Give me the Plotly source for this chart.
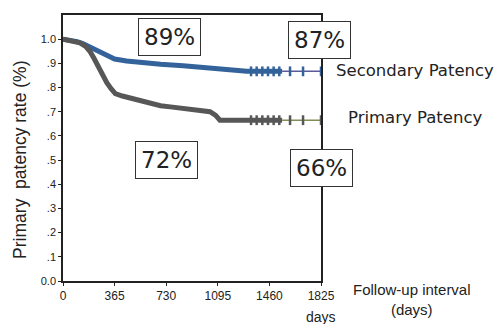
import plotly.graph_objects as go

# Kaplan-Meier style data (days, survival fraction)
sec_t = [0, 60, 100, 140, 180, 220, 260, 300, 365, 450, 550, 690, 850, 950, 1090, 1200, 1300, 1825]
sec_s = [1.0, 0.995, 0.99, 0.982, 0.97, 0.958, 0.945, 0.932, 0.918, 0.91, 0.903, 0.896, 0.89, 0.884, 0.875, 0.869, 0.867, 0.867]

pri_t = [0, 60, 120, 160, 190, 220, 250, 280, 310, 340, 370, 420, 480, 550, 620, 690, 760, 830, 900, 970, 1040, 1080, 1110, 1825]
pri_s = [1.0, 0.995, 0.985, 0.97, 0.95, 0.92, 0.885, 0.85, 0.82, 0.795, 0.775, 0.765, 0.755, 0.745, 0.735, 0.725, 0.72, 0.715, 0.71, 0.705, 0.70, 0.685, 0.665, 0.665]

thick_end = 1550
censor_t = [1330, 1370, 1410, 1450, 1490, 1530, 1606, 1698, 1825]

x_ticks = [0, 365, 730, 1095, 1460, 1825]
y_ticks = [0.0, 0.1, 0.2, 0.3, 0.4, 0.5, 0.6, 0.7, 0.8, 0.9, 1.0]
y_ticktext = ["0.0", ".1", ".2", ".3", ".4", ".5", ".6", ".7", ".8", ".9", "1.0"]

box_labels = ["89%", "87%", "72%", "66%"]
box_x = [750, 1811, 729, 1825]
box_y = [1.009, 0.997, 0.50, 0.467]


def value_at(ts, ss, t):
    for i in range(len(ts) - 1):
        if ts[i] <= t <= ts[i + 1]:
            f = (t - ts[i]) / (ts[i + 1] - ts[i])
            return ss[i] + f * (ss[i + 1] - ss[i])
    return ss[-1]


def split(ts, ss, cut):
    a_t, a_s, b_t, b_s = [], [], [], []
    for ti, si in zip(ts, ss):
        if ti <= cut:
            a_t.append(ti); a_s.append(si)
        else:
            b_t.append(ti); b_s.append(si)
    v = value_at(ts, ss, cut)
    a_t.append(cut); a_s.append(v)
    b_t.insert(0, cut); b_s.insert(0, v)
    return a_t, a_s, b_t, b_s


fig = go.Figure()

for ts, ss, thick_col, thin_col in [
    (sec_t, sec_s, "#33639a", "#5a5a99"),
    (pri_t, pri_s, "#575757", "#7f8f55"),
]:
    a_t, a_s, b_t, b_s = split(ts, ss, thick_end)
    fig.add_trace(go.Scatter(x=a_t, y=a_s, mode="lines", line=dict(color=thick_col, width=5),
                             showlegend=False, hoverinfo="skip"))
    fig.add_trace(go.Scatter(x=b_t, y=b_s, mode="lines", line=dict(color=thin_col, width=1.5),
                             showlegend=False, hoverinfo="skip", cliponaxis=False))
    fig.add_trace(go.Scatter(x=censor_t, y=[value_at(ts, ss, c) for c in censor_t], mode="markers",
                             marker=dict(symbol="line-ns", size=7, line=dict(color=thick_col, width=2.5)),
                             showlegend=False, hoverinfo="skip", cliponaxis=False))

for txt, bx, by in zip(box_labels, box_x, box_y):
    fig.add_annotation(x=bx, y=by, xref="x", yref="y", text=txt, showarrow=False,
                       xanchor="center", yanchor="middle",
                       font=dict(family="DejaVu Sans", size=23, color="#222"),
                       bgcolor="white", bordercolor="#333", borderwidth=1, borderpad=5)

side = dict(xref="paper", yref="paper", showarrow=False, xanchor="center", yanchor="middle")
fig.add_annotation(x=1.364, y=0.793, text="Secondary Patency", font=dict(family="DejaVu Sans", size=16.5, color="#222"), **side)
fig.add_annotation(x=1.366, y=0.613, text="Primary Patency", font=dict(family="DejaVu Sans", size=16.5, color="#222"), **side)
fig.add_annotation(x=1.353, y=-0.068, text="Follow-up interval<br>(days)", font=dict(family="Liberation Sans", size=15, color="#222"), **side)
fig.add_annotation(x=1.0, y=-0.135, text="days", font=dict(family="Liberation Sans", size=14, color="#222"), **side)
fig.add_annotation(x=-0.167, y=0.455, text="Primary  patency rate (%)", textangle=-90,
                   font=dict(family="Liberation Sans", size=17.5, color="#222"), **side)

fig.update_xaxes(range=[0, 1825], tickvals=x_ticks, ticktext=[str(v) for v in x_ticks],
                 showgrid=False, zeroline=False, showline=True, linecolor="#222", linewidth=1.5, mirror=True,
                 ticks="outside", ticklen=3, tickcolor="#222",
                 tickfont=dict(family="Liberation Sans Narrow, Liberation Sans", size=12, color="#222"))
fig.update_yaxes(range=[0, 1.1], tickvals=y_ticks, ticktext=y_ticktext,
                 showgrid=False, zeroline=False, showline=True, linecolor="#222", linewidth=1.5, mirror=True,
                 ticks="outside", ticklen=3, tickcolor="#222",
                 tickfont=dict(family="Liberation Sans Narrow, Liberation Sans", size=11, color="#222"))

fig.update_layout(width=500, height=324, margin=dict(l=63, r=179, t=15, b=43),
                  plot_bgcolor="white", paper_bgcolor="white", showlegend=False)

fig.write_html("out.html", config={"displayModeBar": False},
               post_script="document.body.style.margin='0';document.body.style.overflow='hidden';")
